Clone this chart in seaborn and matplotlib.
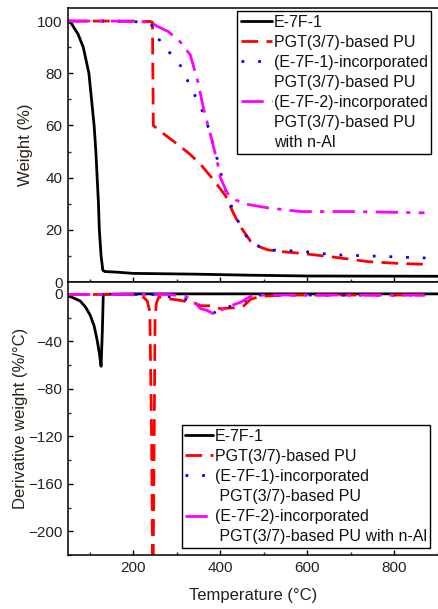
import numpy as np
import pandas as pd
import matplotlib
matplotlib.use("Agg")
import matplotlib.pyplot as plt
from matplotlib.lines import Line2D
import seaborn as sns

# ---------------- data ----------------
series_names = ["E-7F-1", "PGT(3/7)-based PU",
                "(E-7F-1)-incorporated PGT(3/7)-based PU",
                "(E-7F-2)-incorporated PGT(3/7)-based PU with n-Al"]
# legend text lines per series (top and bottom panels)
legend_top_lines = [["E-7F-1"], ["PGT(3/7)-based PU"],
                    ["(E-7F-1)-incorporated", "PGT(3/7)-based PU"],
                    ["(E-7F-2)-incorporated", "PGT(3/7)-based PU", "with n-Al"]]
legend_bot_lines = [["E-7F-1"], ["PGT(3/7)-based PU"],
                    ["(E-7F-1)-incorporated", " PGT(3/7)-based PU"],
                    ["(E-7F-2)-incorporated", " PGT(3/7)-based PU with n-Al"]]

# TGA (weight %)
tga_e7f1_T = [50, 58, 73, 85, 98, 104, 110, 114, 117, 120, 122, 126, 130, 135, 160, 200, 345, 470, 600, 900]
tga_e7f1_W = [100, 99, 95, 90, 80, 70, 60, 50, 40, 30, 20, 10, 4.5, 4.0, 3.8, 3.3, 3.0, 2.6, 2.3, 2.2]

tga_pgt_T = [50, 200, 240, 244, 246, 260, 292, 330, 355, 385, 412, 431, 447, 470, 490, 509, 550, 585, 662, 740, 800, 865]
tga_pgt_W = [100, 100, 99.8, 99.5, 60, 58, 54, 49, 45, 39, 33, 26, 21, 15.5, 13.5, 12.3, 11.5, 11, 9.5, 7.8, 7.2, 6.8]

tga_e1_T = [50, 150, 230, 246, 262, 278, 293, 308, 331, 355, 373, 393, 408, 431, 454, 470, 509, 585, 662, 740, 872]
tga_e1_W = [100, 100, 99.6, 98, 92, 89, 86, 83, 75, 67, 59, 47, 37, 26.5, 19, 15, 12.3, 11.8, 10.4, 10, 9.2]

tga_e2_T = [50, 150, 240, 255, 280, 308, 331, 348, 362, 378, 393, 400, 416, 435, 454, 509, 585, 700, 869]
tga_e2_W = [100, 100, 99.6, 98, 96, 92, 87, 77, 66, 56, 46, 40, 34, 31.5, 30, 28.4, 27, 27, 26.5]

# DTG (derivative weight %/°C)
dtg_e7f1_T = [50, 60, 78, 90, 101, 110, 117, 122, 126, 129, 131, 135, 200, 400, 600, 800, 900]
dtg_e7f1_D = [-1.7, -3, -6, -11, -18, -27, -39, -50, -61, -30, -1, -0.3, 0, 0, 0, 0, 0]

dtg_pgt_T = [50, 200, 220, 232, 238, 242, 245, 248, 250, 253, 258, 265, 278, 300, 339, 355, 378, 400, 431, 454, 470, 493, 550, 700, 870]
dtg_pgt_D = [-0.5, -0.5, -1.5, -6, -15, -120, -260, -120, -20, -8, -3, -2.5, -4, -5, -7.5, -10, -10, -12.5, -11.7, -10, -4.5, -2, -1, -1, -1]

dtg_e1_T = [50, 250, 293, 320, 340, 355, 370, 385, 400, 415, 431, 454, 470, 490, 600, 872]
dtg_e1_D = [-0.5, -0.5, -3, -4.5, -6, -12.5, -14, -16, -13, -11, -10, -7, -2, -1, -1, -1]

dtg_e2_T = [50, 280, 320, 340, 355, 370, 385, 400, 424, 447, 470, 490, 600, 869]
dtg_e2_D = [-0.5, -0.5, -2, -7, -12.5, -14, -17, -14, -10, -7, -2, -1, -1, -1]

x_ticks = [200, 400, 600, 800]
top_yticks = [0, 20, 40, 60, 80, 100]
bot_yticks = [-200, -160, -120, -80, -40, 0]

# ---------------- style ----------------
sns.set_style("ticks")
plt.rcParams['font.family'] = ['Liberation Sans', 'DejaVu Sans']
plt.rcParams['axes.linewidth'] = 1.1

colors = ["black", "#ff0000", "#0000ff", "#ff00ff"]
styles = ["-", (0, (6, 3)), (0, (1, 5)), (0, (8, 3, 1.5, 3))]
lw = 2.0

fig = plt.figure(figsize=(4.38, 6.09), dpi=100)
W, H = 438, 609
ax1 = fig.add_axes([68 / W, 1 - 282 / H, (438 - 68) / W, (282 - 8) / H])
ax2 = fig.add_axes([68 / W, 1 - 555 / H, (438 - 68) / W, (555 - 282) / H], sharex=ax1)

tga = [(tga_e7f1_T, tga_e7f1_W), (tga_pgt_T, tga_pgt_W), (tga_e1_T, tga_e1_W), (tga_e2_T, tga_e2_W)]
dtg = [(dtg_e7f1_T, dtg_e7f1_D), (dtg_pgt_T, dtg_pgt_D), (dtg_e1_T, dtg_e1_D), (dtg_e2_T, dtg_e2_D)]

for ax, sets in ((ax1, tga), (ax2, dtg)):
    for i, (t, v) in enumerate(sets):
        df = pd.DataFrame({"T": t, "v": v})
        sns.lineplot(data=df, x="T", y="v", ax=ax, color=colors[i], linestyle=styles[i],
                     lw=lw, estimator=None, sort=False, label=series_names[i], legend=False)

ax1.set_xlim(50, 900)
ax1.set_ylim(0, 105)
ax2.set_ylim(-220, 10)

ax1.set_yticks(top_yticks)
ax1.set_yticks(np.arange(10, 105, 20), minor=True)
ax2.set_yticks(bot_yticks)
ax2.set_yticks(np.arange(-220, 10, 20), minor=True)
ax2.set_xticks(x_ticks)
ax2.set_xticks([100, 300, 500, 700, 900], minor=True)
ax2.set_xlim(50, 900)

for ax in (ax1, ax2):
    ax.tick_params(which='major', direction='in', length=3.5, width=1.0, labelsize=11,
                   colors='black', labelcolor='#222222', pad=4)
    ax.tick_params(which='minor', direction='in', length=2, width=1.0)
    ax.spines['right'].set_visible(False)
    for s in ax.spines.values():
        s.set_color('black')
ax1.tick_params(axis='x', labelbottom=False)

ax1.set_xlabel("")
ax1.set_ylabel("Weight (%)", fontsize=12, color='#2a2218', labelpad=3)
ax2.set_ylabel("Derivative weight (%/°C)", fontsize=12, color='#2a2218', labelpad=0)
ax2.set_xlabel("Temperature (°C)", fontsize=12, color='#222222', labelpad=10)


def build_legend(ax, lines_per_series, anchor, loc, hlen):
    handles, labels = [], []
    for i, lines in enumerate(lines_per_series):
        for j, txt in enumerate(lines):
            if j == 0:
                handles.append(Line2D([], [], color=colors[i], linestyle=styles[i], lw=lw))
            else:
                handles.append(Line2D([], [], color='none', lw=0))
            labels.append(txt)
    leg = ax.legend(handles, labels, loc=loc, bbox_to_anchor=anchor, fontsize=11.5,
                    frameon=True, fancybox=False, framealpha=1, edgecolor='black',
                    handlelength=hlen, handletextpad=0.12, borderpad=0.22,
                    labelspacing=0.32, borderaxespad=0)
    leg.get_frame().set_linewidth(1.0)
    for t in leg.get_texts():
        t.set_color('#111111')
    return leg


build_legend(ax1, legend_top_lines, (0.457, 0.989), 'upper left', 1.95)
build_legend(ax2, legend_bot_lines, (0.308, 0.026), 'lower left', 1.7)

fig.savefig("out.png", dpi=100)
